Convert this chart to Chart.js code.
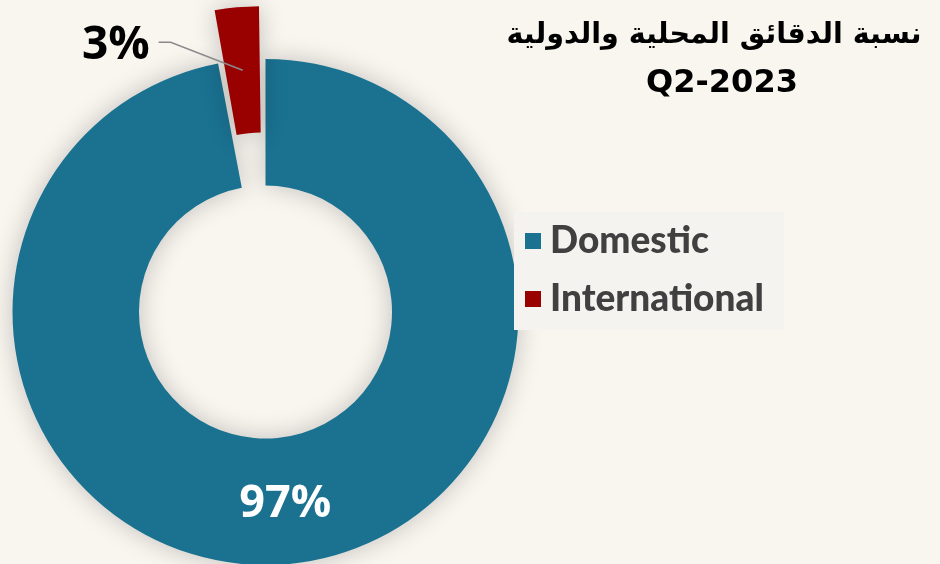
<!DOCTYPE html>
<html><head><meta charset="utf-8">
<script src="https://cdn.jsdelivr.net/npm/chart.js@4.4.0/dist/chart.umd.min.js"></script>
<style>
html,body{margin:0;padding:0;background:#f9f6f0;}
#wrap{width:940px;height:564px;position:relative;overflow:hidden;}
</style>
</head><body>
<div id="wrap"><canvas id="c" width="940" height="564"></canvas></div>
<script>
const categories = ['Domestic', 'International'];
const values = [97, 3];
const valueLabels = ['97%', '3%'];
const titleLines = ['نسبة الدقائق المحلية والدولية', 'Q2-2023'];
const colors = ['#1a7190', '#990000'];

const shadowPlugin = {
  id: 'shadow',
  beforeDatasetsDraw(chart) {
    const ctx = chart.ctx;
    ctx.save();
    ctx.shadowColor = 'rgba(0,0,0,0.22)';
    ctx.shadowBlur = 26;
    ctx.shadowOffsetX = 0;
    ctx.shadowOffsetY = 0;
  },
  afterDatasetsDraw(chart) {
    chart.ctx.restore();
  }
};

const labelPlugin = {
  id: 'labels',
  afterDatasetsDraw(chart) {
    const ctx = chart.ctx;
    const meta = chart.getDatasetMeta(0);
    meta.data.forEach((arc, i) => {
      const p = arc.getProps(['x', 'y', 'startAngle', 'endAngle', 'innerRadius', 'outerRadius', 'circumference']);
      const off = (arc.options.offset || 0) / 4;
      const fix = 1 - Math.sin(Math.min(Math.PI, p.circumference || 0));
      const mid = (p.startAngle + p.endAngle) / 2;
      const r = (p.innerRadius + p.outerRadius) / 2 + off + off * fix;
      const ax = p.x + Math.cos(mid) * r;
      const ay = p.y + Math.sin(mid) * r;
      ctx.save();
      ctx.textBaseline = 'middle';
      if (i === 0) {
        ctx.fillStyle = '#ffffff';
        ctx.font = 'bold 45px "Open Sans"';
        ctx.textAlign = 'center';
        ctx.fillText(valueLabels[i], ax + 2, ay + 3);
      } else {
        ctx.strokeStyle = '#8a8a8a';
        ctx.lineWidth = 1.5;
        ctx.beginPath();
        ctx.moveTo(ax, ay);
        ctx.lineTo(ax - 72, ay - 28);
        ctx.lineTo(ax - 84, ay - 28);
        ctx.stroke();
        ctx.fillStyle = '#000000';
        ctx.font = 'bold 46px "Open Sans"';
        ctx.textAlign = 'right';
        ctx.fillText(valueLabels[i], ax - 93, ay - 24);
      }
      ctx.restore();
    });
  }
};

const decorPlugin = {
  id: 'decor',
  afterDraw(chart) {
    const ctx = chart.ctx;
    ctx.save();
    // legend
    ctx.fillStyle = '#f4f3ef';
    ctx.fillRect(514, 212, 270, 118);
    const rows = [241, 299];
    categories.forEach((c, i) => {
      ctx.fillStyle = colors[i];
      ctx.fillRect(525, rows[i] - 8, 16, 16);
      ctx.fillStyle = '#404040';
      ctx.font = '900 37px Lato';
      ctx.textAlign = 'left';
      ctx.textBaseline = 'middle';
      ctx.fillText(c, 550, rows[i]);
    });
    // title
    ctx.fillStyle = '#000000';
    ctx.textAlign = 'center';
    ctx.textBaseline = 'alphabetic';
    let fs = 30;
    ctx.font = 'bold ' + fs + 'px "DejaVu Sans"';
    const w = ctx.measureText(titleLines[0]).width;
    fs = Math.min(40, fs * 415 / w);
    ctx.font = 'bold ' + fs.toFixed(1) + 'px "DejaVu Sans"';
    ctx.fillText(titleLines[0], 714, 43);
    ctx.font = 'bold 32px "DejaVu Sans"';
    ctx.fillText(titleLines[1], 722, 92);
    ctx.restore();
  }
};

new Chart(document.getElementById('c'), {
  type: 'doughnut',
  data: {
    labels: categories,
    datasets: [{
      data: values,
      backgroundColor: colors,
      borderWidth: 0,
      offset: (ctx) => ctx.dataIndex === 1 ? 117 : 0,
      hoverOffset: 0,
      clip: false
    }]
  },
  options: {
    responsive: false,
    animation: false,
    devicePixelRatio: 1,
    radius: 253,
    cutout: '50%',
    layout: { padding: { left: 0, right: 409, top: 60, bottom: 0 } },
    plugins: {
      legend: { display: false },
      title: { display: false },
      tooltip: { enabled: false }
    }
  },
  plugins: [shadowPlugin, labelPlugin, decorPlugin]
});
</script>
</body></html>
